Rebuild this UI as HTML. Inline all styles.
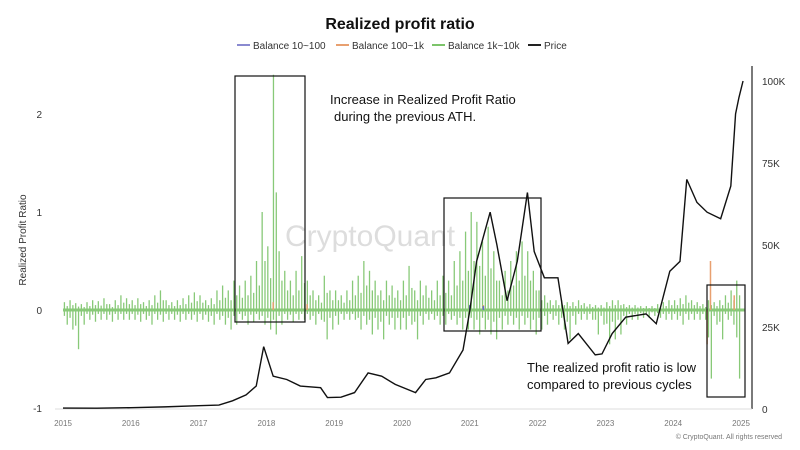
<!DOCTYPE html>
<html><head><meta charset="utf-8"><style>
body{margin:0;background:#fff;font-family:"Liberation Sans",sans-serif}
svg{display:block}
</style></head><body>
<svg id="c" width="800" height="450">
<text x="400" y="29" text-anchor="middle" font-size="16" font-weight="bold" fill="#111">Realized profit ratio</text>
<g font-size="10" fill="#333">
<g><line x1="237" y1="45" x2="250" y2="45" stroke="#8a8ad0" stroke-width="2"/><text x="253" y="49">Balance 10~100</text></g>
<g><line x1="336" y1="45" x2="349" y2="45" stroke="#e8a070" stroke-width="2"/><text x="352" y="49">Balance 100~1k</text></g>
<g><line x1="432" y1="45" x2="445" y2="45" stroke="#7cc46a" stroke-width="2"/><text x="448" y="49">Balance 1k~10k</text></g>
<g><line x1="528" y1="45" x2="541" y2="45" stroke="#222" stroke-width="2"/><text x="544" y="49">Price</text></g>
</g>
<text x="370" y="246" text-anchor="middle" font-size="30" fill="#ddd">CryptoQuant</text>
<text transform="translate(26,240) rotate(-90)" text-anchor="middle" font-size="10" fill="#333">Realized Profit Ratio</text>
<line x1="752" y1="66" x2="752" y2="409" stroke="#222" stroke-width="1.2"/>
<line x1="55" y1="409" x2="752" y2="409" stroke="#ddd"/>
<g id="axes"></g>
<g id="marks"></g>
<g fill="none" stroke="#111" stroke-width="1.2">
<rect x="235" y="76" width="70" height="246"/>
<rect x="444" y="198" width="97" height="133"/>
<rect x="707" y="285" width="38" height="112"/>
</g>
<text x="330" y="104" font-size="13" fill="#111">Increase in Realized Profit Ratio</text>
<text x="334" y="121" font-size="13" fill="#111">during the previous ATH.</text>
<text x="527" y="372" font-size="13" fill="#111">The realized profit ratio is low</text>
<text x="527" y="389" font-size="13" fill="#111">compared to previous cycles</text>
<text x="782" y="439" text-anchor="end" font-size="7" fill="#777">© CryptoQuant. All rights reserved</text>
</svg>
<script>
const years=[2015,2016,2017,2018,2019,2020,2021,2022,2023,2024,2025];
const leftTicks=[2,1,0,-1];
const rightTicks=[100,75,50,25,0];
const rightLabels=["100K","75K","50K","25K","0"];
const greenMax=[0.08,0.1,0.07,0.06,0.08,0.1,0.09,0.12,0.06,0.1,0.15,0.12,
0.1,0.12,0.08,0.1,0.15,0.2,0.1,0.08,0.1,0.12,0.15,0.18,
0.15,0.1,0.12,0.2,0.25,0.2,0.3,0.25,0.3,0.35,0.5,1.0,
0.65,2.4,0.6,0.4,0.3,0.4,0.55,0.3,0.2,0.15,0.35,0.2,
0.2,0.15,0.2,0.3,0.35,0.5,0.4,0.3,0.2,0.3,0.25,0.2,
0.3,0.45,0.2,0.3,0.25,0.2,0.3,0.35,0.3,0.5,0.6,0.8,
1.0,0.9,0.7,0.85,0.6,0.3,0.4,0.5,0.6,0.7,0.6,0.4,
0.2,0.15,0.1,0.1,0.1,0.08,0.08,0.1,0.07,0.06,0.05,0.05,
0.08,0.1,0.1,0.06,0.05,0.05,0.04,0.04,0.04,0.06,0.08,0.1,
0.1,0.12,0.15,0.1,0.08,0.06,0.1,0.08,0.1,0.15,0.2,0.3];
const greenMin=[-0.15,-0.2,-0.4,-0.15,-0.1,-0.12,-0.1,-0.1,-0.12,-0.1,-0.1,-0.1,
-0.1,-0.12,-0.1,-0.15,-0.1,-0.12,-0.1,-0.1,-0.12,-0.1,-0.1,-0.12,
-0.1,-0.12,-0.15,-0.1,-0.15,-0.2,-0.15,-0.1,-0.15,-0.12,-0.1,-0.15,
-0.2,-0.25,-0.15,-0.1,-0.12,-0.1,-0.1,-0.1,-0.15,-0.1,-0.3,-0.2,
-0.15,-0.1,-0.1,-0.1,-0.2,-0.15,-0.25,-0.2,-0.3,-0.15,-0.2,-0.2,
-0.2,-0.15,-0.3,-0.15,-0.1,-0.1,-0.15,-0.15,-0.1,-0.15,-0.2,-0.2,
-0.2,-0.25,-0.2,-0.25,-0.3,-0.2,-0.15,-0.15,-0.2,-0.15,-0.2,-0.25,
-0.2,-0.15,-0.1,-0.15,-0.2,-0.3,-0.15,-0.1,-0.1,-0.1,-0.25,-0.15,
-0.35,-0.3,-0.25,-0.15,-0.1,-0.1,-0.08,-0.08,-0.06,-0.08,-0.1,-0.1,
-0.1,-0.15,-0.1,-0.1,-0.1,-0.1,-0.7,-0.15,-0.3,-0.1,-0.15,-0.7];
const orangeDates=[2018.1,2018.6,2021.2,2024.5,2024.55,2024.9];
const orangeVals=[0.08,0.06,0.05,-0.35,0.5,0.15];
const blueDates=[2021.0,2021.2];
const blueVals=[0.05,0.04];
const priceDates=[2015,2015.5,2016,2016.5,2017,2017.3,2017.5,2017.7,2017.85,2017.96,2018.1,2018.3,2018.5,2018.8,2018.9,2019.1,2019.3,2019.5,2019.7,2019.9,2020.2,2020.35,2020.5,2020.7,2020.9,2021.0,2021.1,2021.3,2021.4,2021.55,2021.7,2021.85,2021.95,2022.1,2022.3,2022.45,2022.6,2022.85,2022.95,2023.1,2023.3,2023.6,2023.75,2023.95,2024.1,2024.2,2024.35,2024.5,2024.7,2024.85,2024.92,2024.97,2025.03];
const priceVals=[0.3,0.25,0.4,0.65,1.0,1.2,2.5,4.3,7,19,10,9,7,6.5,3.5,3.6,5,11,10,7.5,5,9,9.5,11,18,30,45,60,50,33,45,66,48,40,40,20,23,16.5,16.8,23,28,29,26,42,45,70,63,60,58,68,90,95,100];
const X0=63,PX=67.8;
const xs=d=>X0+(d-2015)*PX;
const yl=v=>310-v*98;
const yr=v=>409-v*3.28;
const NS="http://www.w3.org/2000/svg";
function mk(t,a,p){const e=document.createElementNS(NS,t);for(const k in a)e.setAttribute(k,a[k]);p.appendChild(e);return e;}
const ax=document.getElementById('axes'),mg=document.getElementById('marks');
years.forEach(y=>{const t=mk('text',{x:xs(y),y:426,'text-anchor':'middle','font-size':8,fill:'#777'},ax);t.textContent=y;

});
leftTicks.forEach(v=>{const t=mk('text',{x:42,y:yl(v)+4,'text-anchor':'end','font-size':10,fill:'#333'},ax);t.textContent=v;

});
rightTicks.forEach((v,i)=>{const t=mk('text',{x:762,y:yr(v)+4,'font-size':10,fill:'#333'},ax);t.textContent=rightLabels[i];

});
const gg=mk('g',{stroke:'#7cc46a','stroke-width':1.3,opacity:0.9},mg);


mk('line',{x1:xs(2015),x2:xs(2025.05),y1:yl(0),y2:yl(0),'stroke-width':3},gg);
greenMax.forEach((v,i)=>{
const d1=2015+(i+0.25)/12,d2=2015+(i+0.75)/12;
const l=mk('line',{x1:xs(d1),x2:xs(d1),y1:yl(v),y2:yl(greenMin[i]*0.4)},gg);


const l2=mk('line',{x1:xs(d2),x2:xs(d2),y1:yl(v*0.5),y2:yl(greenMin[i])},gg);

});
const og=mk('g',{stroke:'#e8a070','stroke-width':1.5},mg);


orangeDates.forEach((d,i)=>{const l=mk('line',{x1:xs(d),x2:xs(d),y1:yl(0),y2:yl(orangeVals[i])},og);

});
const bg=mk('g',{stroke:'#6a6ad0','stroke-width':1.5},mg);


blueDates.forEach((d,i)=>{const l=mk('line',{x1:xs(d),x2:xs(d),y1:yl(0),y2:yl(blueVals[i])},bg);

});
const pl=mk('polyline',{fill:'none',stroke:'#111','stroke-width':1.4,points:priceDates.map((d,i)=>xs(d)+','+yr(priceVals[i])).join(' ')},mg);


</script>
</body></html>
